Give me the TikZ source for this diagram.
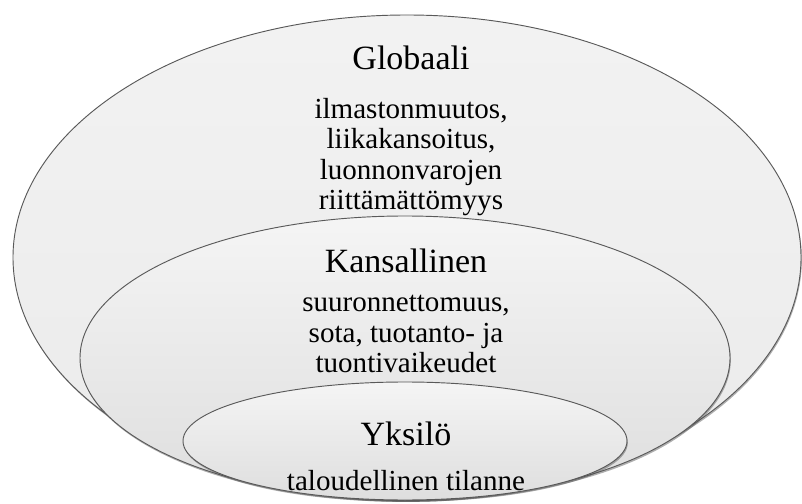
\documentclass[tikz,border=0pt]{standalone}
\usepackage{fontspec}
\setmainfont{Liberation Serif}
\usetikzlibrary{shadows}

\begin{document}
\begin{tikzpicture}[x=0.75pt,y=0.75pt]
\tikzstyle{layer}=[draw=black!65,line width=0.7pt,top color=black!4,bottom color=black!13,
  drop shadow={shadow xshift=0.6pt,shadow yshift=-1.4pt,opacity=0.45,fill=black!70}]
\tikzstyle{outer}=[layer,top color=black!5,bottom color=black!8]
\tikzstyle{title}=[anchor=base,inner sep=0pt,font=\fontsize{25.5}{27}\selectfont]
\tikzstyle{desc}=[anchor=north,inner sep=0pt,align=center,font=\fontsize{21.8}{22.8}\selectfont]
\useasboundingbox (0,0) rectangle (802,503);
% levels, outermost first
\draw[outer] (407,245.5) ellipse (394 and 242.5);
\draw[layer] (405,145) ellipse (325 and 142);
\draw[layer] (405,62) ellipse (222 and 59);
% texts
\node[title] (glob) at (411,433) {Globaali};
\node[desc] (globtxt) at (411,405) {ilmastonmuutos,\\liikakansoitus,\\luonnonvarojen\\riittämättömyys};
\node[title] (kans) at (406,230) {Kansallinen};
\node[desc] (kanstxt) at (406,208) {suuronnettomuus,\\sota, tuotanto- ja\\tuontivaikeudet};
\node[title] (yks) at (406,58) {Yksilö};
\node[desc] (ykstxt) at (406,33) {taloudellinen tilanne};
\end{tikzpicture}
\end{document}
